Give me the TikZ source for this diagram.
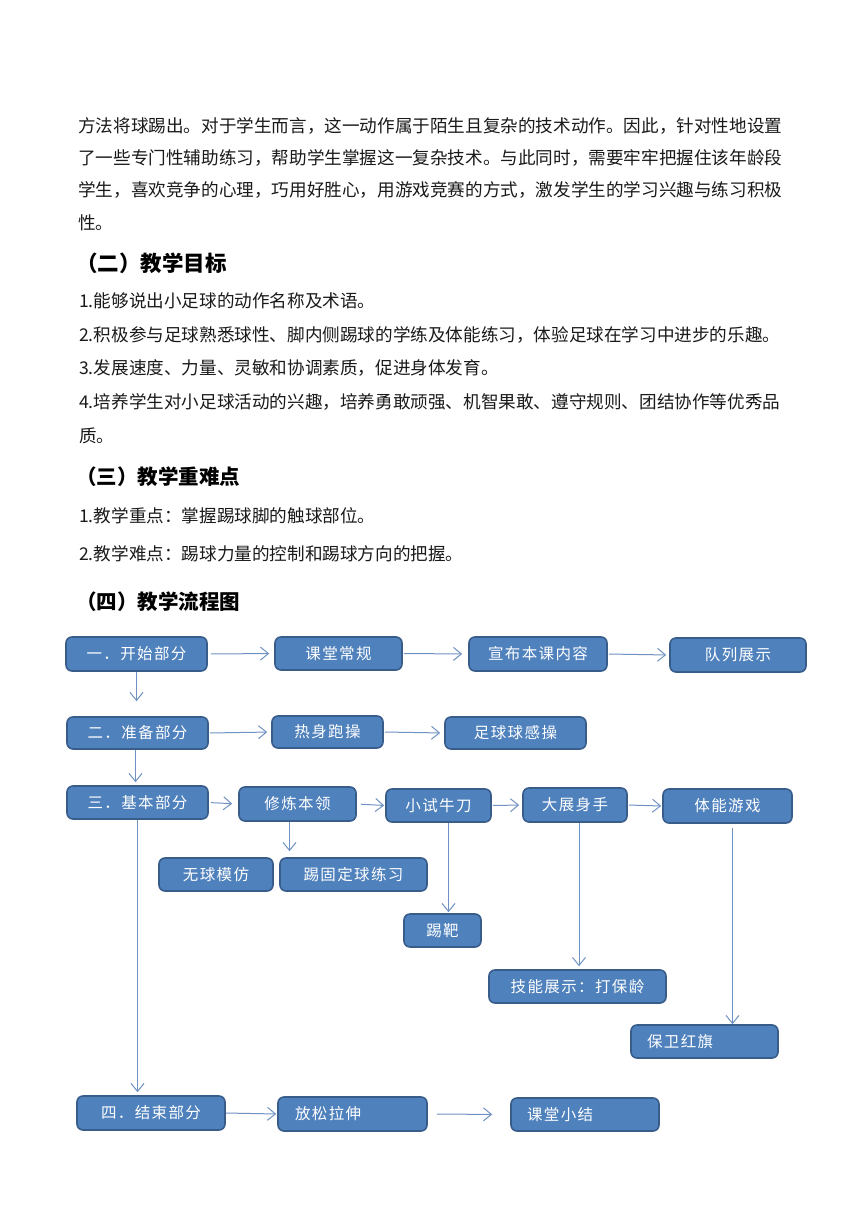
\documentclass[tikz,border=0pt]{standalone}
\usepackage{fontspec}
\newfontfamily\cjk{Noto Sans CJK SC}
\newfontfamily\cjkbox[LetterSpace=9]{Noto Sans CJK SC}
\usetikzlibrary{arrows.meta,calc}
\definecolor{boxfill}{HTML}{4F81BD}
\definecolor{boxborder}{HTML}{385D8A}
\definecolor{arrowc}{HTML}{7092C2}
\definecolor{txt}{HTML}{1A1A1A}
\tikzset{
  box/.style={draw=boxborder, fill=boxfill, line width=1.6pt, rounded corners=6pt,
    text=white, font=\cjkbox\fontsize{15.5}{18}\selectfont, inner sep=0pt},
  lbox/.style={box, align=left},
  arr/.style={draw=arrowc, line width=1pt, -{Straight Barb[length=8pt,width=13pt]}},
  body/.style={anchor=west, inner sep=0pt, text=txt, font=\cjk\fontsize{17.6}{20}\selectfont},
  head/.style={anchor=west, inner sep=0pt, text=black, font=\cjk\bfseries\fontsize{20.5}{24}\selectfont},
}
\begin{document}
\begin{tikzpicture}[x=1pt,y=-1pt]
\useasboundingbox[fill=white] (0,0) rectangle (860,1216);
% body text
\node[body] (l1) at (78,126) {方法将球踢出。对于学生而言，这一动作属于陌生且复杂的技术动作。因此，针对性地设置};
\node[body] (l2) at (78,158) {了一些专门性辅助练习，帮助学生掌握这一复杂技术。与此同时，需要牢牢把握住该年龄段};
\node[body] (l3) at (78,190) {学生，喜欢竞争的心理，巧用好胜心，用游戏竞赛的方式，激发学生的学习兴趣与练习积极};
\node[body] (l4) at (78,223) {性。};
\node[head, font=\cjk\bfseries\fontsize{21.5}{24}\selectfont] (h2) at (76,263) {（二）教学目标};
\node[body] (g1) at (79,301) {1.能够说出小足球的动作名称及术语。};
\node[body] (g2) at (79,335) {2.积极参与足球熟悉球性、脚内侧踢球的学练及体能练习，体验足球在学习中进步的乐趣。};
\node[body] (g3) at (79,368) {3.发展速度、力量、灵敏和协调素质，促进身体发育。};
\node[body] (g4) at (79,402) {4.培养学生对小足球活动的兴趣，培养勇敢顽强、机智果敢、遵守规则、团结协作等优秀品};
\node[body] (g5) at (79,436) {质。};
\node[head] (h3) at (76,477) {（三）教学重难点};
\node[body] (k1) at (79,516) {1.教学重点：掌握踢球脚的触球部位。};
\node[body] (k2) at (79,554) {2.教学难点：踢球力量的控制和踢球方向的把握。};
\node[head] (h4) at (76,602) {（四）教学流程图};
% flowchart boxes
\node[box, minimum width=141, minimum height=34] (n1) at (136.5,654) {一．开始部分};
\node[box, minimum width=127, minimum height=33] (n2) at (338.5,653.5) {课堂常规};
\node[box, minimum width=138, minimum height=34] (n3) at (538,654) {宣布本课内容};
\node[box, minimum width=136, minimum height=34] (n4) at (738,655) {队列展示};
\node[box, minimum width=141, minimum height=32] (m1) at (137.5,733) {二．准备部分};
\node[box, minimum width=111, minimum height=32] (m2) at (327.5,732) {热身跑操};
\node[box, minimum width=141, minimum height=32] (m3) at (515.5,733) {足球球感操};
\node[box, minimum width=141, minimum height=33] (b1) at (137.5,802.5) {三．基本部分};
\node[box, minimum width=117, minimum height=34] (b2) at (297.5,804) {修炼本领};
\node[box, minimum width=105, minimum height=33] (b3) at (438.5,805.5) {小试牛刀};
\node[box, minimum width=104, minimum height=34] (b4) at (575,805) {大展身手};
\node[box, minimum width=129, minimum height=34] (b5) at (727.5,806) {体能游戏};
\node[box, minimum width=114, minimum height=33] (c1) at (216,874.5) {无球模仿};
\node[box, minimum width=147, minimum height=33] (c2) at (353.5,874.5) {踢固定球练习};
\node[box, minimum width=77, minimum height=33] (c3) at (442.5,930.5) {踢靶};
\node[box, minimum width=177, minimum height=33] (c4) at (577.5,986.5) {技能展示：打保龄};
\node[lbox, minimum width=147, minimum height=33, text width=115] (c5) at (704.5,1041.5) {保卫红旗};
\node[box, minimum width=148, minimum height=34] (e1) at (151,1113) {四．结束部分};
\node[lbox, minimum width=149, minimum height=34, text width=115] (e2) at (352.5,1114) {放松拉伸};
\node[lbox, minimum width=148, minimum height=33, text width=116] (e3) at (585,1114.5) {课堂小结};
% connectors
\draw[arr, shorten <=3pt, shorten >=5pt] (n1.east) -- (n2.west);
\draw[arr, shorten <=1pt, shorten >=6pt] (n2.east) -- (n3.west);
\draw[arr, shorten <=1pt, shorten >=3pt] (n3.east) -- (n4.west);
\draw[arr, shorten >=15pt] (n1.south) -- (m1.north -| n1.south);
\draw[arr, shorten >=3pt] ([xshift=-2pt]m1.south) -- ([xshift=-2pt]m1.south |- b1.north);
\draw[arr, shorten <=1pt, shorten >=4pt] (m1.east) -- (m2.west);
\draw[arr, shorten <=1pt, shorten >=4pt] (m2.east) -- (m3.west);
\draw[arr, shorten <=2pt, shorten >=6pt] (b1.east) -- (b2.west);
\draw[arr, shorten <=4pt, shorten >=1pt] (b2.east) -- (b3.west);
\draw[arr, shorten <=1pt, shorten >=3pt] (b3.east) -- (b4.west);
\draw[arr, shorten <=1pt, shorten >=1pt] (b4.east) -- (b5.west);
\draw[arr, shorten >=6pt] ([xshift=-8pt]b2.south) -- ([xshift=-8pt]b2.south |- c2.north);
\draw[arr, shorten >=1pt] ([xshift=10pt]b3.south) -- ([xshift=10pt]b3.south |- c3.north);
\draw[arr, shorten >=3pt] ([xshift=4pt]b4.south) -- ([xshift=4pt]b4.south |- c4.north);
\draw[arr, shorten <=4pt] ([xshift=5pt]b5.south) -- ([xshift=5pt]b5.south |- c5.north);
\draw[arr, shorten >=3pt] (b1.south) -- (b1.south |- e1.north);
\draw[arr, shorten >=1pt] (e1.east) -- (e2.west);
\draw[arr, shorten <=9pt, shorten >=18pt] (e2.east) -- (e3.west);
\end{tikzpicture}
\end{document}
